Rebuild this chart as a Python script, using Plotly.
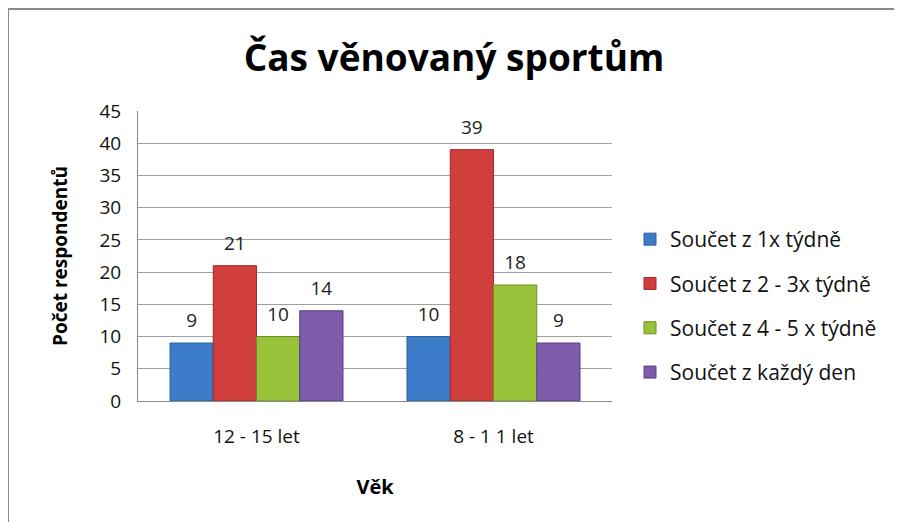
import plotly.graph_objects as go

categories = ["12 - 15 let", "8 - 1 1 let"]
series_names = ["Součet z 1x týdně", "Součet z 2 - 3x týdně", "Součet z 4 - 5 x týdně", "Součet z každý den"]
values = [
    [9, 10],
    [21, 39],
    [10, 18],
    [14, 9],
]
colors = ["#3D7CC9", "#D03F3C", "#98C23A", "#7D5CAB"]
line_colors = ["#2C5F9E", "#9E2B29", "#6F8F24", "#5A3F82"]
y_ticks = list(range(0, 50, 5))

FONT = "Open Sans"
fig = go.Figure()
for i, name in enumerate(series_names):
    fig.add_trace(go.Bar(
        x=categories, y=values[i], name=name,
        marker=dict(color=colors[i], line=dict(color=line_colors[i], width=1)),
        offsetgroup=str(i), legendgroup=name,
    ))
for i, name in enumerate(series_names):
    fig.add_trace(go.Scatter(
        x=categories, y=values[i], mode="markers+text",
        text=[str(v) for v in values[i]], textposition="top center",
        textfont=dict(size=19, color="#222", family=FONT),
        marker=dict(size=16, opacity=0),
        offsetgroup=str(i), showlegend=False, hoverinfo="skip",
        cliponaxis=False,
    ))

# page has an 8px body margin; figure coordinates below
W, H = 894, 514
L, R, T, B = 130, 604, 103, 393
pw, ph = R - L, B - T

fig.update_layout(
    width=W, height=H,
    margin=dict(l=L, r=W - R, t=T, b=H - B),
    paper_bgcolor="white", plot_bgcolor="white",
    barmode="group", bargap=0.27, bargroupgap=0,
    scattermode="group", scattergap=0.27,
    font=dict(family=FONT, color="#111"),
    title=dict(text="<b>Čas věnovaný sportům</b>", x=446 / W, xanchor="center",
               y=1 - 50 / H, yanchor="middle",
               font=dict(size=37, family=FONT, color="#000")),
    legend=dict(x=(622 - L) / pw, y=(B - 211) / ph, xanchor="left", yanchor="top",
                font=dict(size=21, family=FONT, color="#111"),
                traceorder="grouped", tracegroupgap=14, itemwidth=30,
                bgcolor="rgba(0,0,0,0)"),
    showlegend=True,
)
fig.update_xaxes(
    showline=True, linecolor="#888", linewidth=1, mirror=False,
    ticks="", ticklabelstandoff=18, tickfont=dict(size=19, family=FONT, color="#111"),
    title=dict(text="<b>Věk</b>", font=dict(size=20, family=FONT, color="#000"), standoff=32),
)
fig.update_yaxes(
    range=[0, 45], tickvals=y_ticks, showgrid=True, gridcolor="#A0A0A0", gridwidth=1,
    showline=True, linecolor="#888", linewidth=1, ticks="", ticklabelstandoff=12,
    tickfont=dict(size=19, family=FONT, color="#111"),
    title=dict(text="<b>Počet respondentů</b>", font=dict(size=19, family=FONT, color="#000"), standoff=26),
    zeroline=False,
)
# outer chart border
fig.add_shape(type="rect", xref="paper", yref="paper",
              x0=(0 - L) / pw, x1=(910 - L) / pw,
              y0=(B - 530) / ph, y1=1 + (T - 1) / ph,
              line=dict(color="#8C8C8C", width=2), layer="below")

fig.write_html("out.html")
